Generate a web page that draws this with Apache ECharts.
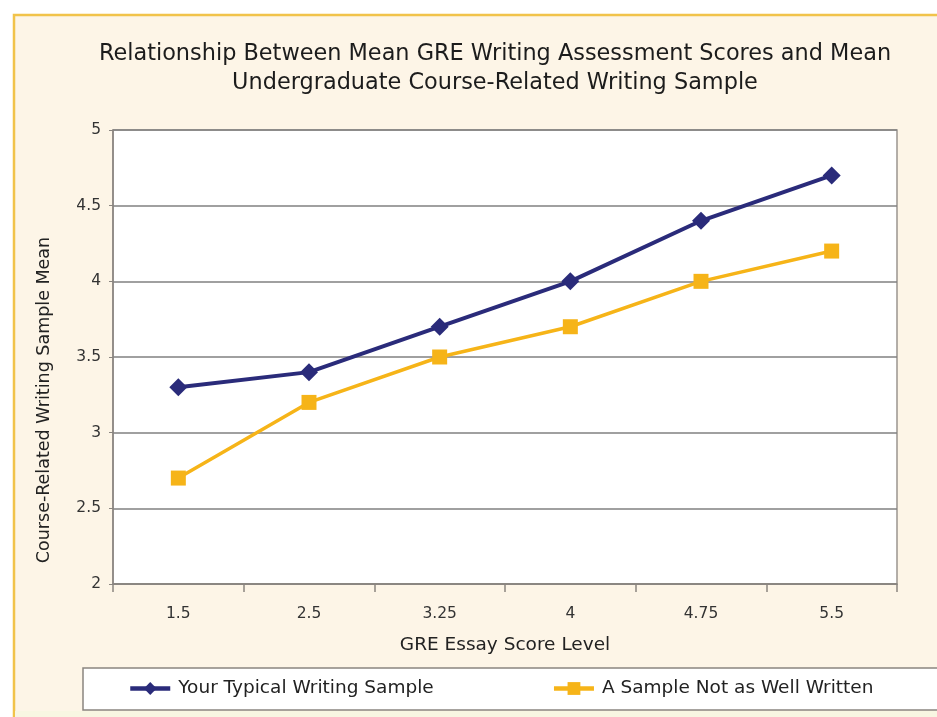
<!DOCTYPE html>
<html>
<head>
<meta charset="utf-8">
<script src="https://cdn.jsdelivr.net/npm/echarts@6/dist/echarts.min.js"></script>
<style>
html,body{margin:0;padding:0;background:#ffffff;}
#chart{width:937px;height:717px;}
</style>
</head>
<body>
<div id="chart"></div>
<script>
const categories = ['1.5', '2.5', '3.25', '4', '4.75', '5.5'];
const typicalSample = [3.3, 3.4, 3.7, 4.0, 4.4, 4.7];
const notWellWritten = [2.7, 3.2, 3.5, 3.7, 4.0, 4.2];
const seriesNames = ['Your Typical Writing Sample', 'A Sample Not as Well Written'];
const yAxisTitle = 'Course-Related Writing Sample Mean';

const FONT = '"DejaVu Sans", Verdana, sans-serif';
const chart = echarts.init(document.getElementById('chart'), null, {renderer: 'canvas'});

chart.setOption({
  backgroundColor: '#ffffff',
  animation: false,
  textStyle: {fontFamily: FONT},
  graphic: [
    {type: 'rect', z: -10, shape: {x: 14, y: 15, width: 940, height: 720},
     style: {fill: '#fdf5e7', stroke: '#f1c34a', lineWidth: 2.5}},
    {type: 'rect', z: -9, shape: {x: 15, y: 711, width: 940, height: 10},
     style: {fill: '#f8f6e2'}},
    {type: 'rect', z: -5, shape: {x: 83, y: 668, width: 880, height: 42},
     style: {fill: '#ffffff', stroke: '#8a8580', lineWidth: 1.5}},
    {type: 'text', x: 44, y: 400, rotation: Math.PI / 2,
     style: {text: yAxisTitle, font: '17.5px ' + FONT, fill: '#222222',
             textAlign: 'center', textVerticalAlign: 'middle'}}
  ],
  title: {
    text: 'Relationship Between Mean GRE Writing Assessment Scores and Mean\nUndergraduate Course-Related Writing Sample',
    left: 490, top: 35, textAlign: 'center',
    textStyle: {fontFamily: FONT, fontSize: 22.4, fontWeight: 'normal', color: '#1c1c1c', lineHeight: 29}
  },
  legend: {
    bottom: 14, left: 123,
    itemGap: 118,
    itemWidth: 40, itemHeight: 16,
    lineStyle: {width: 4.5},
    textStyle: {fontFamily: FONT, fontSize: 18.5, color: '#222222', padding: [0, 0, 0, 3]},
    data: seriesNames
  },
  grid: {
    left: 113, right: 40, top: 130, bottom: 133,
    show: true, backgroundColor: '#ffffff', borderColor: '#9a9590', borderWidth: 1.5
  },
  xAxis: {
    type: 'category',
    data: categories,
    boundaryGap: true,
    name: 'GRE Essay Score Level',
    nameLocation: 'middle', nameGap: 52,
    nameTextStyle: {fontFamily: FONT, fontSize: 18.5, color: '#222222'},
    axisLine: {lineStyle: {color: '#8a8580', width: 1.5}},
    axisTick: {show: true, length: 8, alignWithLabel: false, lineStyle: {color: '#8a8580', width: 1.5}},
    axisLabel: {fontFamily: FONT, fontSize: 15.5, color: '#333333', margin: 22}
  },
  yAxis: {
    type: 'value',
    min: 2, max: 5, interval: 0.5,
    axisLine: {show: true, lineStyle: {color: '#8a8580', width: 1.5}},
    axisTick: {show: true, length: 4, lineStyle: {color: '#8a8580'}},
    axisLabel: {fontFamily: FONT, fontSize: 15.5, color: '#333333', margin: 12},
    splitLine: {lineStyle: {color: '#808080', width: 1.5}}
  },
  series: [
    {
      name: seriesNames[0], type: 'line', data: typicalSample,
      symbol: 'diamond', symbolSize: 18,
      lineStyle: {color: '#2a2b7a', width: 4},
      itemStyle: {color: '#2a2b7a'}
    },
    {
      name: seriesNames[1], type: 'line', data: notWellWritten,
      symbol: 'rect', symbolSize: 15,
      lineStyle: {color: '#f6b418', width: 3.5},
      itemStyle: {color: '#f6b418'}
    }
  ]
});
</script>
</body>
</html>
